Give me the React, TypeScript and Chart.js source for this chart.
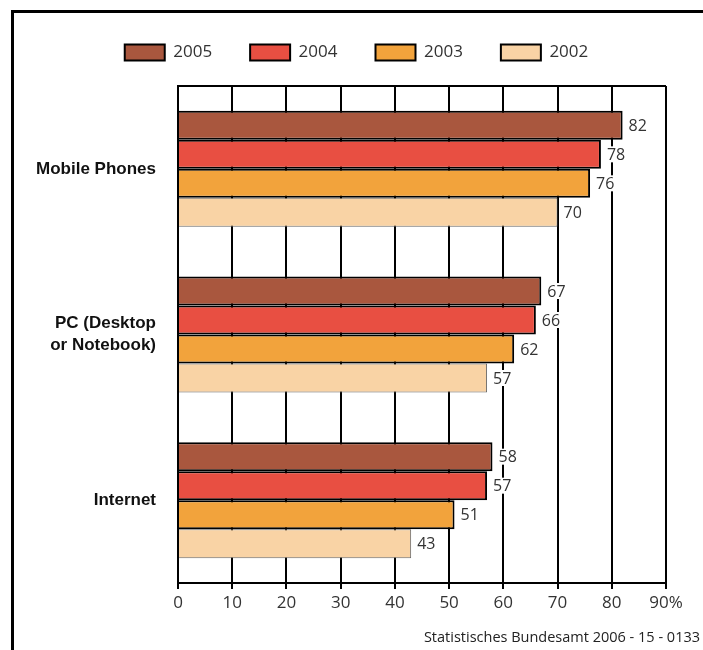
import React, { useEffect, useRef } from "react";
import { Chart, registerables } from "chart.js";

Chart.register(...registerables);

const categories: (string | string[])[] = ["Mobile Phones", ["PC (Desktop", "or Notebook)"], "Internet"];
const seriesNames = ["2005", "2004", "2003", "2002"];
const values2005 = [82, 67, 58];
const values2004 = [78, 66, 57];
const values2003 = [76, 62, 51];
const values2002 = [70, 57, 43];
const seriesColors = ["#A9573E", "#E84F42", "#F2A33C", "#F9D3A5"];
const xTickValues = [0, 10, 20, 30, 40, 50, 60, 70, 80, 90];
const sourceText = "Statistisches Bundesamt 2006 - 15 - 0133";

const FONT = "'Open Sans', 'DejaVu Sans', sans-serif";

const valueLabelPlugin = {
  id: "valueLabels",
  afterDatasetsDraw(chart: any) {
    const ctx = chart.ctx;
    ctx.save();
    ctx.font = `16px ${FONT}`;
    ctx.textBaseline = "middle";
    ctx.textAlign = "left";
    chart.data.datasets.forEach((ds: any, i: number) => {
      const meta = chart.getDatasetMeta(i);
      meta.data.forEach((bar: any, j: number) => {
        const txt = String(ds.data[j]);
        const w = ctx.measureText(txt).width;
        const x = bar.x + 6;
        ctx.fillStyle = "#ffffff";
        ctx.fillRect(x - 1, bar.y - 8, w + 3, 16);
        ctx.fillStyle = "#333333";
        ctx.fillText(txt, x, bar.y + 1);
      });
    });
    ctx.restore();
  },
};

const frameplugin = {
  id: "areaFrame",
  beforeLayout(chart: any) {
    const lg = chart.legend;
    if (lg && !lg._patched) {
      const orig = lg.fit.bind(lg);
      lg.fit = function () {
        orig();
        this.height = 80;
      };
      lg._patched = true;
    }
  },
  afterLayout(chart: any) {
    const lg = chart.legend;
    if (lg) {
      lg.left += 16;
      lg.right += 16;
    }
  },
  afterDatasetsDraw(chart: any) {
    const { ctx, chartArea } = chart;
    ctx.save();
    ctx.strokeStyle = "#000";
    ctx.lineWidth = 2;
    ctx.beginPath();
    ctx.moveTo(chartArea.left, chartArea.top);
    ctx.lineTo(chartArea.right, chartArea.top);
    ctx.stroke();
    ctx.restore();
  },
};

export default function App() {
  const ref = useRef<HTMLCanvasElement | null>(null);
  useEffect(() => {
    if (!ref.current) return;
    const allValues = [values2005, values2004, values2003, values2002];
    const chart = new Chart(ref.current, {
      type: "bar",
      data: {
        labels: categories,
        datasets: seriesNames.map((name, i) => ({
          label: name,
          data: allValues[i],
          backgroundColor: seriesColors[i],
          borderColor: i === 3 ? "#666" : "#000",
          borderWidth: i === 3 ? 1 : 2,
          borderSkipped: "start",
          categoryPercentage: 0.7,
          barPercentage: 1.0,
        })),
      },
      options: {
        indexAxis: "y",
        animation: false,
        responsive: false,
        maintainAspectRatio: false,
        layout: { padding: { left: 15, right: 37, top: 6, bottom: 0 } },
        plugins: {
          legend: {
            display: true,
            position: "top",
            labels: {
              boxWidth: 40,
              boxHeight: 16,
              padding: 38,
              color: "#333",
              font: { family: FONT, size: 17 },
              generateLabels(chart: any) {
                return chart.data.datasets.map((ds: any, i: number) => ({
                  text: ds.label,
                  fillStyle: ds.backgroundColor,
                  strokeStyle: "#000",
                  lineWidth: 2,
                  hidden: false,
                  datasetIndex: i,
                  fontColor: "#333",
                }));
              },
            },
          },
          tooltip: { enabled: false },
        },
        scales: {
          x: {
            type: "linear",
            min: 0,
            max: 90,
            afterFit(scale: any) {
              scale.height = 67;
            },
            afterBuildTicks(scale: any) {
              scale.ticks = xTickValues.map((v) => ({ value: v }));
            },
            ticks: {
              stepSize: 10,
              color: "#333",
              font: { family: FONT, size: 17 },
              padding: 4,
              callback: (v: any) => (v === 90 ? "90%" : String(v)),
            },
            grid: {
              display: true,
              color: "#000",
              lineWidth: 2,
              drawTicks: true,
              tickLength: 6,
              tickColor: "#000",
            },
            border: { display: true, color: "#000", width: 2 },
          },
          y: {
            afterFit(scale: any) {
              scale.width = 163;
            },
            ticks: {
              color: "#111",
              font: { family: "'Liberation Sans', Arial, sans-serif", size: 17, weight: "bold", lineHeight: 1.3 },
              padding: 22,
            },
            grid: { display: false, drawTicks: false },
            border: { display: true, color: "#000", width: 2 },
          },
        },
      },
      plugins: [valueLabelPlugin, frameplugin],
    } as any);
    return () => chart.destroy();
  }, []);

  return (
    <div style={{ position: "fixed", left: 0, top: 0, width: 703, height: 650, background: "#fff" }}>
      <div
        style={{
          position: "absolute",
          left: 11,
          top: 10,
          width: 692,
          height: 640,
          borderTop: "3px solid #000",
          borderLeft: "3px solid #000",
          boxSizing: "border-box",
        }}
      />
      <canvas ref={ref} width={703} height={650} style={{ position: "absolute", left: 0, top: 0 }} />
      <div
        style={{
          position: "absolute",
          right: 3,
          top: 627,
          fontFamily: FONT,
          fontSize: 14.5,
          color: "#222",
          whiteSpace: "nowrap",
        }}
      >
        {sourceText}
      </div>
    </div>
  );
}
